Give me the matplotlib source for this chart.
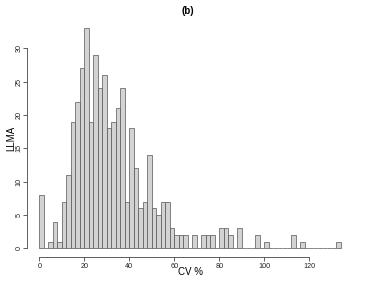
import matplotlib
matplotlib.use("Agg")
import matplotlib.pyplot as plt
import numpy as np

# histogram of CV % (bin width 2), counts
bin_left = np.arange(0, 134, 2)
counts = [
    8, 0, 1, 4, 1, 7, 11, 19, 22, 27,      # 0-20
    33, 19, 29, 24, 26, 18, 19, 21, 24, 7,  # 20-40
    18, 12, 6, 7, 14, 6, 5, 7, 7, 3,        # 40-60
    2, 2, 2, 0, 2, 0, 2, 2, 2, 0,           # 60-80
    3, 3, 2, 0, 3, 0, 0, 0, 2, 0,           # 80-100
    1, 0, 0, 0, 0, 0, 2, 0, 1, 0,           # 100-120
    0, 0, 0, 0, 0, 0, 1,                    # 120-134
]
x_ticks = [0, 20, 40, 60, 80, 100, 120]
y_ticks = [0, 5, 10, 15, 20, 25, 30]

plt.rcParams["font.family"] = ["Liberation Sans", "DejaVu Sans"]

fig = plt.figure(figsize=(3.68, 2.82), dpi=100)
ax = fig.add_axes([0.0739, 0.0883, 0.885, 0.843])

ax.bar(bin_left, counts, width=2, align="edge", color="#d3d3d3",
       edgecolor="#555555", linewidth=0.5)

ax.set_xlim(-5.36, 139.36)
ax.set_ylim(-1.32, 34.32)

for side in ("top", "right"):
    ax.spines[side].set_visible(False)
ax.spines["left"].set_bounds(0, 30)
ax.spines["bottom"].set_bounds(0, 120)
for side in ("left", "bottom"):
    ax.spines[side].set_linewidth(0.6)
    ax.spines[side].set_color("#444444")

ax.set_xticks(x_ticks)
ax.set_yticks(y_ticks)
ax.tick_params(length=3, width=0.6, color="#444444", labelsize=5.2,
               labelcolor="#222222")
ax.tick_params(axis="x", pad=1.5)
ax.tick_params(axis="y", pad=0.5)
for lab in ax.get_yticklabels():
    lab.set_rotation(90)
    lab.set_va("center")

ax.set_xlabel("CV %", fontsize=7, va="center")
ax.xaxis.set_label_coords(0.5, -0.064)
ax.set_ylabel("LLMA", fontsize=7, va="center")
ax.yaxis.set_label_coords(-0.05, 0.5)
fig.text(0.511, 0.961, "(b)", fontsize=7, fontweight="bold",
         ha="center", va="center")

fig.savefig("out.png", dpi=100)
